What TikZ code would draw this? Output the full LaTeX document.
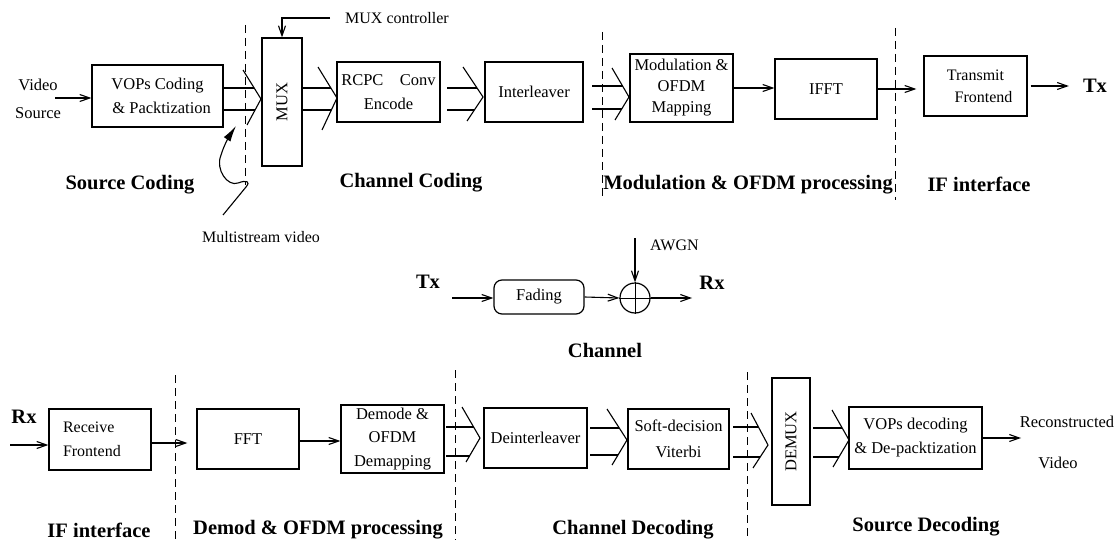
\documentclass[tikz,border=0pt]{standalone}
\usepackage{fontspec}
\setmainfont{Liberation Serif}
\usetikzlibrary{arrows.meta,calc}
\begin{document}
\begin{tikzpicture}[x=1pt,y=-1pt,
  box/.style={draw, line width=1.2pt, inner sep=0pt, align=center,
    font=\fontsize{16.5}{24}\selectfont},
  lbl/.style={font=\fontsize{20.5}{24}\selectfont\bfseries, inner sep=0pt},
  txt/.style={font=\fontsize{16.5}{24}\selectfont, inner sep=0pt, align=center},
  arr/.style={line width=1.1pt, -{Straight Barb[length=10pt,width=7pt]}},
  ln/.style={line width=1.1pt},
  sep/.style={line width=1pt, dash pattern=on 8pt off 5pt},
]
\useasboundingbox (0,0) rectangle (1118,540);

% ---------------- transmitter chain ----------------
\node[txt, font=\fontsize{16.5}{28}\selectfont] (vsrc) at (38,99) {Video\\Source};
\node[box, minimum width=131pt, minimum height=62pt] (vops) at (157.5,96)
  {VOPs Coding\\\,\,\,\& Packtization};
% rotated boxes: local east points up the page, local south points right
\node[box, rotate=90, minimum width=128pt, minimum height=40pt] (mux) at (282,102) {MUX};
\node[box, minimum width=103pt, minimum height=60pt] (rcpc) at (388.5,92)
  {RCPC\quad Conv\\Encode};
\node[box, minimum width=98pt, minimum height=60pt] (inter) at (534,92) {Interleaver};
\node[box, minimum width=103pt, minimum height=68pt, font=\fontsize{16.5}{21}\selectfont]
  (modu) at (681.5,88) {Modulation \&\\OFDM\\Mapping};
\node[box, minimum width=102pt, minimum height=60pt] (ifft) at (826,89) {IFFT};
\node[box, minimum width=103pt, minimum height=60pt, font=\fontsize{16}{22}\selectfont]
  (tfe) at (975.5,86) {Transmit\\\quad Frontend};
\node[lbl] (txout) at (1095,86) {Tx};

\coordinate (vin) at (55,98);
\draw[arr] (vin) -- (vin -| vops.west);

% MUX controller
\node[txt, anchor=west, font=\fontsize{16}{20}\selectfont] (muxc) at (345,18) {MUX controller};
\coordinate (mc) at (330,18);
\draw[arr] (mc) -| (mux.east);

% twin streams into chevrons
\coordinate (k1t) at (243,70);  \coordinate (k1) at (261,99);  \coordinate (k1b) at (247,125);
\coordinate (k2t) at (318,67);  \coordinate (k2) at (337,98);  \coordinate (k2b) at (322,130);
\coordinate (k3t) at (463,67);  \coordinate (k3) at (483,97);  \coordinate (k3b) at (467,121);
\coordinate (k4t) at (612,68);  \coordinate (k4) at (629,97);  \coordinate (k4b) at (615,120);
\draw[ln] (k1t) -- (k1) -- (k1b);
\draw[ln] (k2t) -- (k2) -- (k2b);
\draw[ln] (k3t) -- (k3) -- (k3b);
\draw[ln] (k4t) -- (k4) -- (k4b);
\draw[ln] (vops.east |- 0,88) -- (254.2,88);
\draw[ln] (vops.east |- 0,110) -- (255.1,110);
\draw[ln] (mux.south |- 0,88) -- (330.9,88);
\draw[ln] (mux.south |- 0,110) -- (331.4,110);
\draw[ln] (447,88) -- (477,88);
\draw[ln] (447,110) -- (474.3,110);
\draw[ln] (592,86) -- (622.6,86);
\draw[ln] (592,109) -- (621.7,109);

\draw[arr] (modu.east) -- (modu.east -| ifft.west);
\draw[arr, shorten >=7pt] (ifft.east) -- (ifft.east -| tfe.west);
\draw[arr] (tfe.east) ++(3,0) -- ([xshift=-14pt]txout.west);

% multistream pointer
\node[txt, font=\fontsize{16}{20}\selectfont] (mstream) at (261,237) {Multistream video};
\draw[line width=1.1pt, -{Latex[length=16pt,width=8pt]}]
  (223,215) -- (246,187) .. controls (251,181) and (246,180) .. (238,183)
  .. controls (228,187) and (215,170) .. (221,155)
  .. controls (224,145) and (230,135) .. (236,126);

% stage boundaries
\draw[sep] (245,25) -- (245,185);
\draw[sep] (602,32) -- (602,200);
\draw[sep] (895,28) -- (895,200);

\node[lbl] (lsc) at (130,185) {Source Coding};
\node[lbl] (lcc) at (411,183) {Channel Coding};
\node[lbl] (lmo) at (748,185) {Modulation \& OFDM processing};
\node[lbl] (lif) at (979,184) {IF interface};

% ---------------- channel ----------------
\node[lbl] (txin) at (428,282) {Tx};
\node[box, rounded corners=8pt, minimum width=90pt, minimum height=34pt] (fad) at (539,297) {Fading};
\node[draw, circle, line width=1.2pt, minimum size=30pt, inner sep=0pt] (sum) at (635,298) {};
\draw[line width=1pt] (sum.north) -- (sum.south) (sum.west) -- (sum.east);
\coordinate (chin) at (452,298);
\draw[arr] (chin) -- (chin -| fad.west);
\draw[arr] (fad.east) -- (sum.west);
\coordinate (nz) at (635,238);
\draw[arr] (nz) -- (sum.north);
\node[txt, anchor=west, font=\fontsize{16}{20}\selectfont] (awgn) at (650,245) {AWGN};
\coordinate (chout) at (692,298);
\draw[arr] (sum.east) -- (chout);
\node[lbl] (rxout) at (712,283) {Rx};
\node[lbl] (lch) at (605,350) {Channel};

% ---------------- receiver chain ----------------
\node[lbl] (rxin) at (24,417) {Rx};
\node[box, minimum width=102pt, minimum height=61pt, text width=74pt, align=left,
  font=\fontsize{16}{24}\selectfont] (rfe) at (100,439.5) {Receive\\Frontend};
\node[box, minimum width=102pt, minimum height=60pt] (fft) at (248,439) {FFT};
\node[box, minimum width=103pt, minimum height=68pt, font=\fontsize{16.5}{23.5}\selectfont]
  (demap) at (392.5,439) {Demode \&\\OFDM\\Demapping};
\node[box, minimum width=103pt, minimum height=60pt] (deint) at (535.5,438) {Deinterleaver};
\node[box, minimum width=101pt, minimum height=60pt, font=\fontsize{16.5}{26}\selectfont]
  (soft) at (678.5,439) {Soft-decision\\Viterbi};
\node[box, rotate=90, minimum width=127pt, minimum height=38pt] (demux) at (791,441.5) {DEMUX};
\node[box, minimum width=133pt, minimum height=62pt] (vopd) at (915.5,438)
  {VOPs decoding\\\& De-packtization};
\node[txt] (recon) at (1067,422) {Reconstructed};
\node[txt] (rvid) at (1058,463) {Video};

\coordinate (rin) at (10,445);
\draw[arr] (rin) -- (rin -| rfe.west);
\draw[arr, shorten >=9pt] (rfe.east |- 0,443) -- (fft.west |- 0,443);
\draw[arr] (fft.east |- 0,441) -- (demap.west |- 0,441);
\coordinate (vout) at (1021,438);
\draw[arr] (vopd.east) -- (vout);

\coordinate (k5t) at (462,407);  \coordinate (k5) at (480,438);  \coordinate (k5b) at (466,462);
\coordinate (k6t) at (607,409);  \coordinate (k6) at (627,440);  \coordinate (k6b) at (612,465);
\coordinate (k7t) at (751,413);  \coordinate (k7) at (768,445);  \coordinate (k7b) at (753,468);
\coordinate (k8t) at (832,410);  \coordinate (k8) at (849,440);  \coordinate (k8b) at (833,467);
\draw[ln] (k5t) -- (k5) -- (k5b);
\draw[ln] (k6t) -- (k6) -- (k6b);
\draw[ln] (k7t) -- (k7) -- (k7b);
\draw[ln] (k8t) -- (k8) -- (k8b);
\draw[ln] (446,427) -- (473.6,427);
\draw[ln] (446,456) -- (469.5,456);
\draw[ln] (590,428) -- (619.3,428);
\draw[ln] (590,455) -- (618,455);
\draw[ln] (733,427) -- (758.4,427);
\draw[ln] (733,457) -- (760.2,457);
\draw[ln] (813,428) -- (842.2,428);
\draw[ln] (813,457) -- (838.9,457);

\draw[sep] (175,375) -- (175,540);
\draw[sep] (455,370) -- (455,540);
\draw[sep] (747,372) -- (747,540);

\node[lbl] (lif2) at (99,530) {IF interface};
\node[lbl] (ldm) at (318,530) {Demod \& OFDM processing};
\node[lbl] (lcd) at (633,530) {Channel Decoding};
\node[lbl] (lsd) at (926,527) {Source Decoding};
\end{tikzpicture}
\end{document}
